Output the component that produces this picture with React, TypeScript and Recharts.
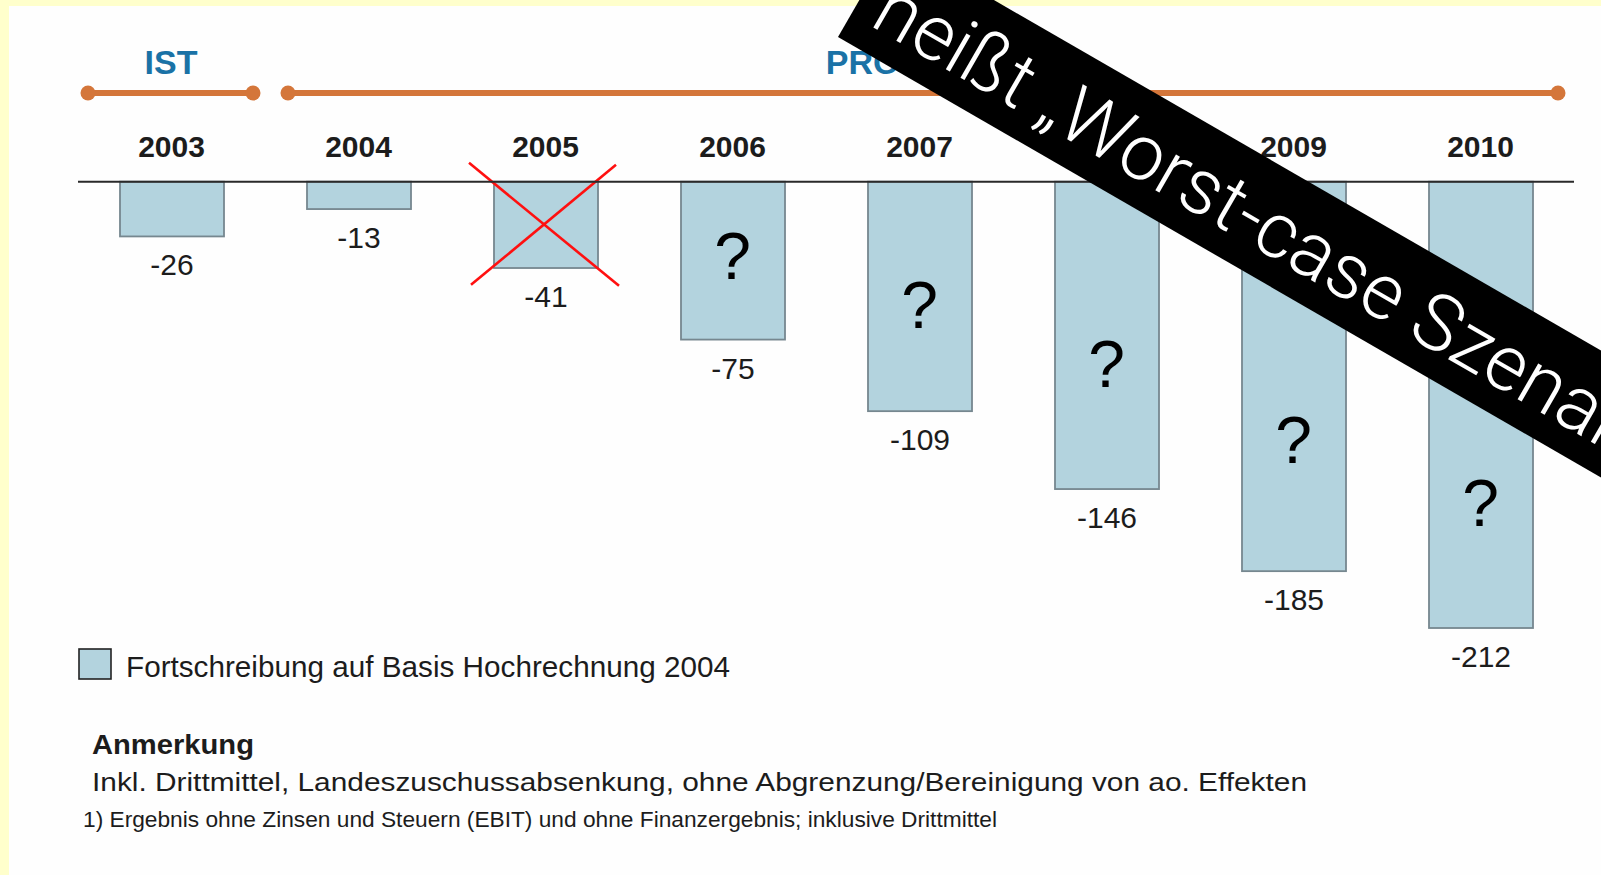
import React from 'react';
import { BarChart, Bar, XAxis, YAxis, LabelList, ReferenceDot } from 'recharts';

// ---- data ----
const years = ['2003', '2004', '2005', '2006', '2007', '2008', '2009', '2010'];
const results = [-26, -13, -41, -75, -109, -146, -185, -212];
const crossedOut = [false, false, true, false, false, false, false, false];
const questionMarkAt: (number | null)[] = [null, null, null, -35, -58, -86, -122, -152];
const valueDomain: [number, number] = [-250, 0];

const periodLabels = ['IST', 'PROGNOSE'];
const legendLabel = 'Fortschreibung auf Basis Hochrechnung 2004';
const noteTitle = 'Anmerkung';
const noteText = 'Inkl. Drittmittel, Landeszuschussabsenkung, ohne Abgrenzung/Bereinigung von ao. Effekten';
const footnote = '1) Ergebnis ohne Zinsen und Steuern (EBIT) und ohne Finanzergebnis; inklusive Drittmittel';
const bannerText = 'heißt \u201EWorst-case Szenario\u201C';

const data = years.map((y, i) => ({ year: y, value: results[i], crossed: crossedOut[i] }));

const FONT = "'Liberation Sans', Arial, Helvetica, sans-serif";
const BANNER_FONT = "Roboto, 'Liberation Sans', Arial, sans-serif";
const BAR_FILL = '#b3d3de';
const BAR_STROKE = '#76878f';
const ORANGE = '#d4763a';
const BLUE = '#1a72a6';

const BarShape = (props: any) => {
  const { x, y, width, height, index, payload } = props;
  const top = Math.min(y, y + height);
  const h = Math.abs(height);
  const crossed = payload?.crossed ?? crossedOut[index];
  const cx = x + width / 2;
  const cy = top + h / 2;
  return (
    <g>
      <rect x={x} y={top} width={width} height={h} fill={BAR_FILL} stroke={BAR_STROKE} strokeWidth={1.8} />
      {crossed ? (
        <g stroke="#ff1010" strokeWidth={2.6}>
          <line x1={cx - 77} y1={cy - 62} x2={cx + 73} y2={cy + 61} />
          <line x1={cx + 70} y1={cy - 60} x2={cx - 75} y2={cy + 60} />
        </g>
      ) : null}
    </g>
  );
};

const ValueLabel = (props: any) => {
  const { x, y, width, height, value } = props;
  const bottom = Math.max(Number(y), Number(y) + Number(height));
  return (
    <text x={Number(x) + Number(width) / 2} y={bottom + 39} textAnchor="middle" fontSize={30} fill="#1c1c1c" fontFamily={FONT}>
      {value}
    </text>
  );
};

const YearTick = (props: any) => {
  const { x, y, payload } = props;
  return (
    <text x={x} y={y - 25} textAnchor="middle" fontSize={30} fontWeight="bold" fill="#1c1c1c" fontFamily={FONT}>
      {payload.value}
    </text>
  );
};

const QuestionMark = (props: any) => {
  const { cx, cy } = props;
  return (
    <text x={cx} y={cy + 24} textAnchor="middle" fontSize={66} fill="#000" fontFamily={FONT}>
      ?
    </text>
  );
};

export default function App() {
  return (
    <div style={{ position: 'absolute', left: 0, top: 0, width: 1601, height: 875, background: '#ffffcc', overflow: 'hidden' }}>
      <style>{'body{margin:0;overflow:hidden}'}</style>
      <div style={{ position: 'absolute', left: 9, top: 6, width: 1592, height: 869, background: '#fefefe' }} />
      <div style={{ position: 'absolute', left: 0, top: 0 }}>
        <BarChart width={1601} height={875} data={data} margin={{ top: 131.7, right: 27, bottom: 167, left: 78 }}>
          <XAxis
            dataKey="year"
            orientation="top"
            height={50}
            tickLine={false}
            tickSize={0}
            tickMargin={0}
            interval={0}
            axisLine={{ stroke: '#2a2a2a', strokeWidth: 2 }}
            tick={<YearTick />}
          />
          <YAxis hide domain={valueDomain} type="number" />
          <Bar dataKey="value" barSize={104} isAnimationActive={false} shape={<BarShape />}>
            <LabelList dataKey="value" content={<ValueLabel />} />
          </Bar>
          {years.map((yr, i) =>
            questionMarkAt[i] == null ? null : (
              <ReferenceDot key={yr} x={yr} y={questionMarkAt[i] as number} r={0} shape={<QuestionMark />} />
            )
          )}
        </BarChart>
      </div>
      <svg width={1601} height={875} style={{ position: 'absolute', left: 0, top: 0, pointerEvents: 'none' }}>
        {/* period timeline */}
        <g stroke={ORANGE} strokeWidth={6} strokeLinecap="round">
          <line x1={88} y1={93} x2={253} y2={93} />
          <line x1={288} y1={93} x2={1558} y2={93} />
        </g>
        <g fill={ORANGE}>
          <circle cx={88} cy={93} r={7.5} />
          <circle cx={253} cy={93} r={7.5} />
          <circle cx={288} cy={93} r={7.5} />
          <circle cx={1558} cy={93} r={7.5} />
        </g>
        <text x={171} y={74} textAnchor="middle" fontSize={34} fontWeight="bold" fill={BLUE} fontFamily={FONT}>
          {periodLabels[0]}
        </text>
        <text x={924} y={74} textAnchor="middle" fontSize={34} fontWeight="bold" fill={BLUE} fontFamily={FONT}>
          {periodLabels[1]}
        </text>

        {/* legend */}
        <rect x={79} y={649} width={32} height={30} fill={BAR_FILL} stroke="#222" strokeWidth={1.6} />
        <text x={126} y={677} fontSize={29.5} fill="#1c1c1c" fontFamily={FONT} textLength={604} lengthAdjust="spacingAndGlyphs">
          {legendLabel}
        </text>

        {/* notes */}
        <text x={92} y={754} fontSize={27} fontWeight="bold" fill="#1c1c1c" fontFamily={FONT} textLength={162} lengthAdjust="spacingAndGlyphs">
          {noteTitle}
        </text>
        <text x={92} y={791} fontSize={26} fill="#1c1c1c" fontFamily={FONT} textLength={1215} lengthAdjust="spacingAndGlyphs">
          {noteText}
        </text>
        <text x={83} y={827} fontSize={22} fill="#1c1c1c" fontFamily={FONT} textLength={914} lengthAdjust="spacingAndGlyphs">
          {footnote}
        </text>

        {/* banner */}
        <g transform="translate(838,37) rotate(30)">
          <rect x={0} y={-110} width={1100} height={110} fill="#000" />
          <text x={20} y={-26} fontSize={78} fontWeight={300} fill="#fff" fontFamily={BANNER_FONT}>
            {bannerText}
          </text>
        </g>
      </svg>
    </div>
  );
}
